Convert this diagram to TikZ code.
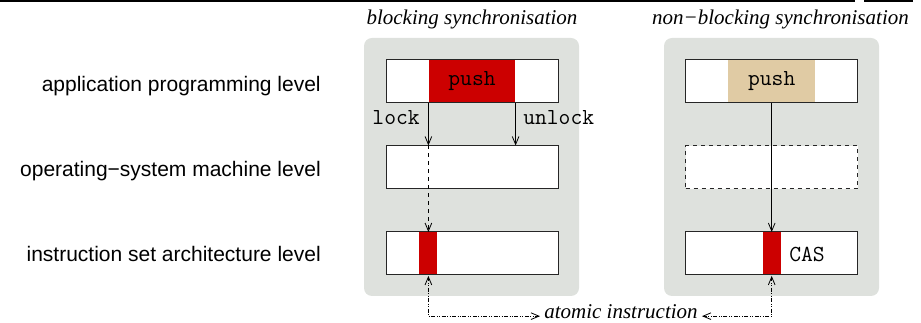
\documentclass[tikz,border=0pt]{standalone}
\usepackage{fontspec}
\setmainfont{Liberation Serif}
\setsansfont{Liberation Sans}
\usetikzlibrary{calc}
\usetikzlibrary{arrows.meta}
\definecolor{panelgray}{RGB}{222,225,221}
\definecolor{lockred}{RGB}{204,0,0}
\definecolor{casbeige}{RGB}{224,203,164}

\begin{document}
\begin{tikzpicture}[x=0.75pt,y=-0.75pt,
  panel/.style={fill=panelgray,rounded corners=6pt,minimum width=161.25pt,minimum height=193.5pt,inner sep=0pt},
  layer/.style={draw=black!85,fill=white,line width=0.75pt,minimum width=129pt,minimum height=32.25pt,inner sep=0pt},
  call/.style={minimum width=65pt,minimum height=31.5pt,inner sep=0pt,font=\ttfamily\fontsize{17.2}{20}\selectfont},
  atom/.style={fill=lockred,minimum width=13.5pt,minimum height=31.5pt,inner sep=0pt},
  levelname/.style={font=\sffamily\fontsize{15.75}{19}\selectfont,inner sep=0pt,anchor=base east},
  heading/.style={font=\itshape\fontsize{15.75}{19}\selectfont,inner sep=0pt,anchor=base},
  note/.style={font=\itshape\fontsize{15.75}{19}\selectfont,inner xsep=3pt,inner ysep=0pt},
  ttlabel/.style={font=\ttfamily\fontsize{17.2}{20}\selectfont,inner sep=0pt},
  flow/.style={black,line width=0.6pt,-{Straight Barb[length=6pt,width=5pt]}},
  atomicline/.style={black,line width=0.6pt,shorten <=1pt,dash pattern=on 3pt off 1.2pt on 0.6pt off 1.2pt on 0.6pt off 1.2pt,{Straight Barb[length=6pt,width=5pt]}-{Straight Barb[length=6pt,width=5pt]}}]

\useasboundingbox (0,0) rectangle (921,323);

\draw[black,line width=1.5pt] (0,1) -- (855,1);
\draw[black,line width=1.5pt] (864,1) -- (913,1);

\node[levelname] (applevel) at (321,91.5) {application programming level};
\node[levelname] (oslevel) at (321,176.7) {operating−system machine level};
\node[levelname] (isalevel) at (321,261.7) {instruction set architecture level};

\node[heading] (blkhead) at (472,24.5) {blocking synchronisation};
\node[heading] (nbhead) at (780.5,24.5) {non−blocking synchronisation};

\node[panel] (blkpanel) at (471.5,167) {};
\node[panel] (nbpanel) at (771.5,167) {};

\node[layer] (blkapp) at (472,81.5) {};
\node[layer] (blkos) at (472,167.5) {};
\node[layer] (blkisa) at (472,253.3) {};
\node[layer] (nbapp) at (771.7,81.5) {};
\node[layer,dashed] (nbos) at (771.7,167.5) {};
\node[layer] (nbisa) at (771.7,253.3) {};

\node[call,fill=lockred] (blkpush) at (blkapp) {push};
\node[call,fill=casbeige] (nbpush) at (nbapp) {push};
\node[atom] (blkatom) at (blkpush.west |- blkisa) {};
\node[atom] (nbatom) at (nbpush.center |- nbisa) {};
\node[ttlabel,anchor=base west] (cas) at (789,262) {CAS};

\node[ttlabel,anchor=base east] (locklabel) at (420,125) {lock};
\node[ttlabel,anchor=base west] (unlocklabel) at (523,125) {unlock};

\draw[flow] (blkpush.west |- blkapp.south) -- (blkpush.west |- blkos.north);
\draw[flow,dashed] (blkpush.west |- blkos.north) -- (blkatom.north);
\draw[flow] (blkpush.east |- blkapp.south) -- (blkpush.east |- blkos.north);
\draw[flow] (nbpush.south) -- (nbatom.north);

\node[note] (atomic) at (621,311.5) {atomic instruction};
\draw[atomicline] (blkatom.south) |- ([yshift=-3.5pt]atomic.west);
\draw[atomicline] (nbatom.south) |- ([yshift=-3.5pt]atomic.east);

\end{tikzpicture}
\end{document}
